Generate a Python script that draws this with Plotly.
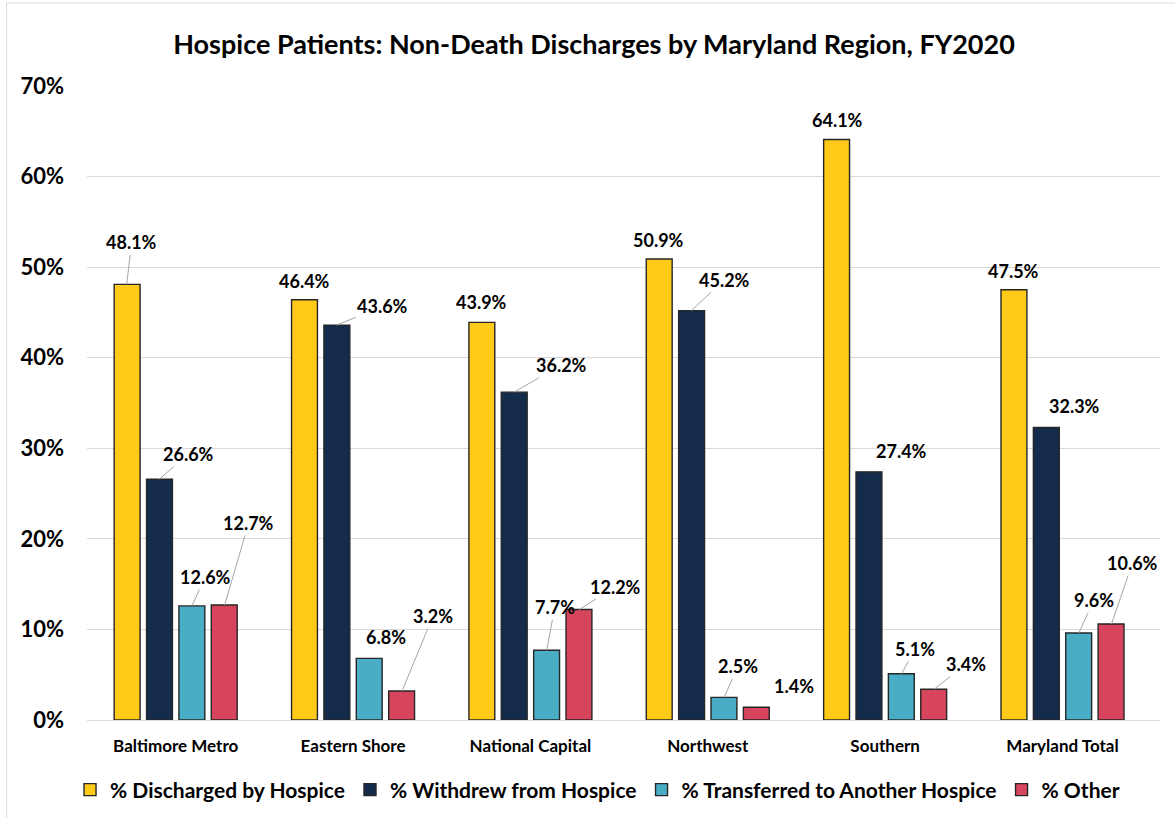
import plotly.graph_objects as go

# ---------------- data ----------------
regions = ["Baltimore Metro", "Eastern Shore", "National Capital", "Northwest", "Southern", "Maryland Total"]
series_names = ["% Discharged by Hospice", "% Withdrew from Hospice",
                "% Transferred to Another Hospice", "% Other"]
discharged = [48.1, 46.4, 43.9, 50.9, 64.1, 47.5]
withdrew = [26.6, 43.6, 36.2, 45.2, 27.4, 32.3]
transferred = [12.6, 6.8, 7.7, 2.5, 5.1, 9.6]
other = [12.7, 3.2, 12.2, 1.4, 3.4, 10.6]
y_ticks = [0, 10, 20, 30, 40, 50, 60, 70]

series_values = [discharged, withdrew, transferred, other]
colors = ["#FFCA18", "#152B4C", "#4AADC6", "#D6455B"]

# label placement (pixel offsets of label centre from bar top, leader line shown?)
label_layout = [
    [(5, -42, True), (0, -19, False), (0, -20, False), (0, -19, False), (1, -19, False), (0, -19, False)],
    [(29, -25, True), (46, -19, True), (47, -27, True), (33, -31, True), (33, -21, False), (28, -21, False)],
    [(13, -29, True), (17, -21, False), (8, -43, True), (14, -31, True), (14, -25, True), (15, -33, True)],
    [(24, -82, True), (31, -75, True), (36, -23, True), (37, -21, False), (32, -25, True), (21, -61, True)],
]

# ---------------- layout geometry ----------------
W, H = 1175, 818
ML, MR, MT, MB = 86.5, 14.5, 86, 98
plot_w = W - ML - MR
plot_h = H - MT - MB
BARGAP = 0.27
BARGROUPGAP = 0.2
FONT = "Lato"

fig = go.Figure()
for name, vals, col in zip(series_names, series_values, colors):
    fig.add_trace(go.Bar(
        x=regions, y=[v / 100 for v in vals], name=name,
        marker=dict(color=col, line=dict(color="#262626", width=1.4)),
        hoverinfo="skip",
    ))

cat_px = plot_w / len(regions)
slot = cat_px * (1 - BARGAP) / len(series_values)
annotations = []
for si, vals in enumerate(series_values):
    offset = (si - (len(series_values) - 1) / 2) * slot
    for ci, v in enumerate(vals):
        dx, dy, line = label_layout[si][ci]
        annotations.append(dict(
            x=regions[ci], y=v / 100, xref="x", yref="y",
            xshift=offset, ax=dx, ay=dy, axref="pixel", ayref="pixel",
            text=f"{v:.1f}%", showarrow=True, arrowhead=0, arrowwidth=1,
            standoff=0, startstandoff=0,
            arrowcolor="#A6A6A6" if line else "rgba(0,0,0,0)",
            font=dict(family=FONT, size=18, color="#000000", weight="bold"),
        ))

def px_to_paper_x(px):
    return (px - ML) / plot_w

def px_to_paper_y(py):
    return (H - MB - py) / plot_h

# outer light frame of the chart
shapes = [dict(type="rect", xref="paper", yref="paper",
               x0=px_to_paper_x(6), x1=px_to_paper_x(1185),
               y0=px_to_paper_y(830), y1=px_to_paper_y(3),
               line=dict(color="#D9D9D9", width=1), fillcolor="rgba(0,0,0,0)", layer="below")]

fig.update_layout(
    width=W, height=H,
    margin=dict(l=ML, r=MR, t=MT, b=MB, autoexpand=False),
    paper_bgcolor="white", plot_bgcolor="white",
    barmode="group", bargap=BARGAP, bargroupgap=BARGROUPGAP,
    title=dict(text="Hospice Patients: Non-Death Discharges by Maryland Region, FY2020",
               x=594 / W, xanchor="center", xref="container",
               y=1 - 45 / H, yanchor="middle", yref="container",
               font=dict(family=FONT, size=27, color="#000000", weight="bold")),
    yaxis=dict(range=[0, 0.70], tickvals=[t / 100 for t in y_ticks],
               ticktext=[f"{t}%" for t in y_ticks],
               showgrid=True, gridcolor="#D9D9D9", gridwidth=1,
               zeroline=False, showline=False, ticks="",
               ticklabelstandoff=22,
               tickfont=dict(family=FONT, size=22, color="#000000", weight="bold")),
    xaxis=dict(showline=True, linecolor="#D9D9D9", linewidth=1, ticks="",
               ticklabelstandoff=11,
               tickfont=dict(family=FONT, size=17, color="#000000", weight="bold")),
    legend=dict(orientation="h", x=px_to_paper_x(597.5), xanchor="center",
                y=px_to_paper_y(790), yanchor="middle",
                font=dict(family=FONT, size=21, color="#000000", weight="bold"),
                itemwidth=30, tracegroupgap=0, traceorder="normal"),
    annotations=annotations,
    shapes=shapes,
)

fig.write_html("out.html", config={"displayModeBar": False},
               post_script="document.body.style.margin='0';document.body.style.padding='0';")
